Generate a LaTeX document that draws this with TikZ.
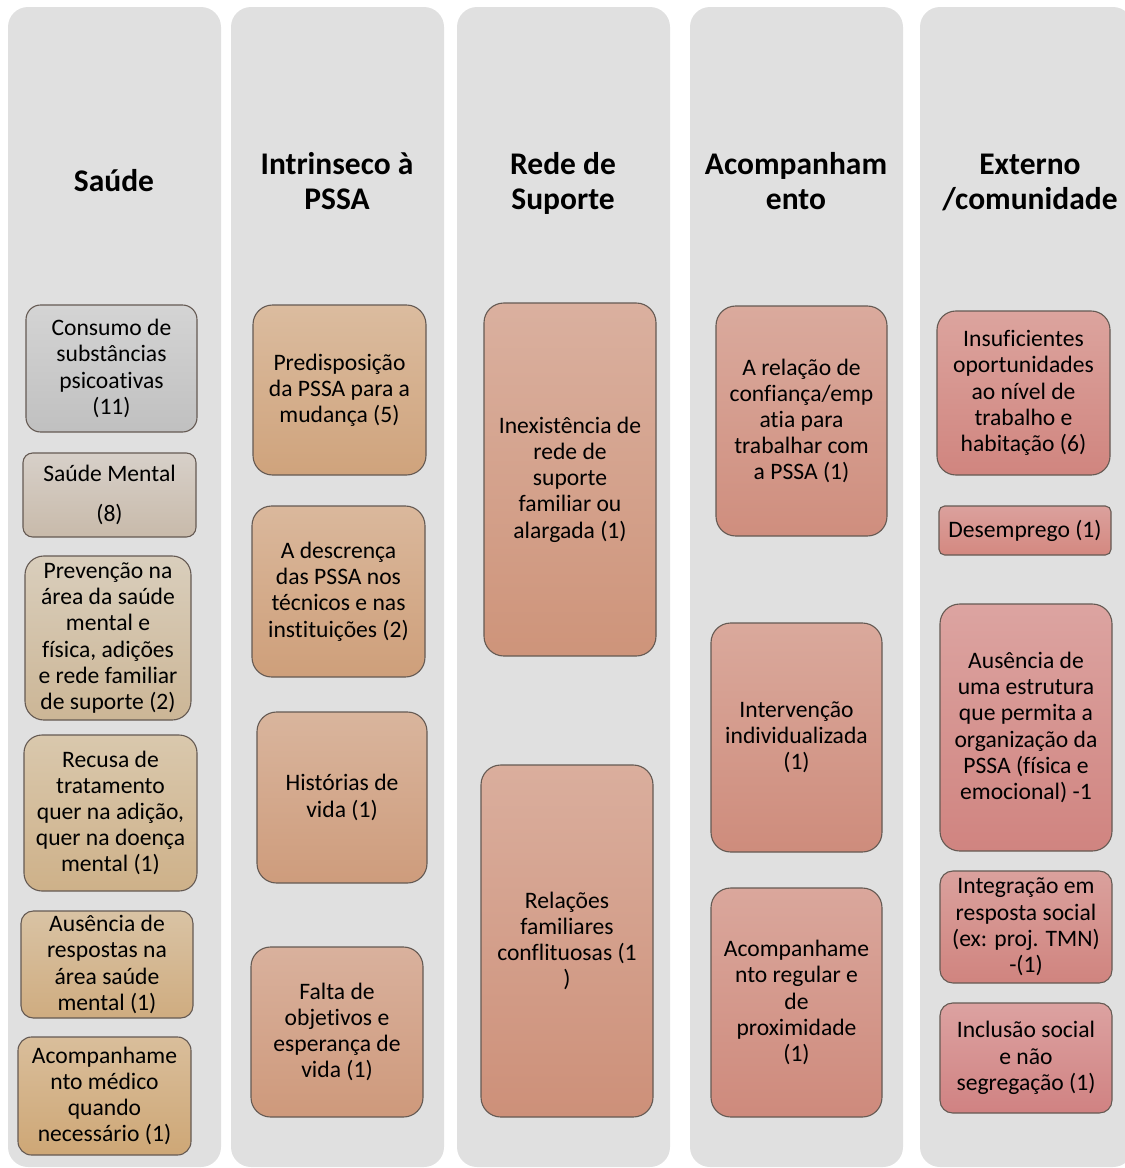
\documentclass[tikz,border=0pt]{standalone}
\usepackage{fontspec}
\setmainfont{Carlito}[Ligatures=NoCommon]
\definecolor{lanegray}{HTML}{E0E0E0}
\definecolor{edgebrown}{HTML}{655A53}
\newcommand\bodyfont{\fontsize{23.6}{26.2}\selectfont}
\newcommand\headfont{\fontsize{31.5}{35}\selectfont\bfseries}
% \catbox{name}{x1}{y1}{x2}{y2}{top colour}{bottom colour}{text}
\newcommand\catbox[8]{%
  \pgfmathsetmacro\bw{#4-#2}\pgfmathsetmacro\bh{#5-#3}%
  \pgfmathsetmacro\br{0.115*min(\bw,\bh)}%
  \pgfmathsetmacro\bx{(#2+#4)/2}\pgfmathsetmacro\by{(#3+#5)/2}%
  \definecolor{cattop}{HTML}{#6}\definecolor{catbot}{HTML}{#7}%
  \node[cat, minimum width=\bw pt, minimum height=\bh pt, rounded corners=\br pt,
        top color=cattop, bottom color=catbot] (#1) at (\bx,\by) {#8};}
\begin{document}
\begin{tikzpicture}[x=1pt,y=-1pt,
  lane/.style={fill=lanegray, draw=none, rounded corners=20pt, inner sep=0pt,
               minimum width=213pt, minimum height=1160pt},
  cat/.style={draw=edgebrown, line width=1.1pt, inner sep=0pt, align=center, font=\bodyfont},
  head/.style={align=center, font=\headfont}]
\useasboundingbox (0,0) rectangle (1125,1168);

% category lanes
\node[lane] (laneA) at (114.5,587) {};
\node[lane] (laneB) at (337.5,587) {};
\node[lane] (laneC) at (563.5,587) {};
\node[lane] (laneD) at (796.5,587) {};
\node[lane] (laneE) at (1026.5,587) {};

% lane headings
\node[head] (hA) at (114,181) {Saúde};
\node[head] (hB) at (337,181) {Intrinseco à\\PSSA};
\node[head] (hC) at (563,183) {Rede de\\Suporte};
\node[head] (hD) at (796,181) {Acompanham\\ento};
\node[head] (hE) at (1030,182) {Externo\\/comunidade};

% Saúde
\catbox{a1}{26}{305}{197}{432}{D4D4D4}{C0C0C0}{Consumo de\\substâncias\\psicoativas\\(11)}
\catbox{a2}{23}{453}{196}{537}{D7D0C9}{C8BAAA}{Saúde Mental\\[13pt](8)}
\catbox{a3}{25}{556}{191}{720}{D9CEBC}{CCB696}{Prevenção na\\área da saúde\\mental e\\física, adições\\e rede familiar\\de suporte (2)}
\catbox{a4}{24}{735}{197}{891}{D9C8AD}{CEB189}{Recusa de\\tratamento\\quer na adição,\\quer na doença\\mental (1)}
\catbox{a5}{21}{911}{193}{1018}{D9C3A4}{CFAC80}{Ausência de\\respostas na\\área saúde\\mental (1)}
\catbox{a6}{18}{1037}{191}{1155}{D9BE9B}{CEA776}{Acompanhame\\nto médico\\quando\\necessário (1)}

% Intrinseco à PSSA
\catbox{b1}{253}{305}{426}{475}{DBBC9F}{CFA37C}{Predisposição\\da PSSA para a\\mudança (5)}
\catbox{b2}{252}{506}{425}{677}{DAB89C}{CE9F7A}{A descrença\\das PSSA nos\\técnicos e nas\\instituições (2)}
\catbox{b3}{257}{712}{427}{883}{D9B59D}{CE9C7C}{Histórias de\\vida (1)}
\catbox{b4}{251}{947}{423}{1117}{D9B19D}{CE997B}{Falta de\\objetivos e\\esperança de\\vida (1)}

% Rede de Suporte
\catbox{c1}{484}{303}{656}{656}{DAB09F}{CE947A}{Inexistência de\\rede de\\suporte\\familiar ou\\alargada (1)}
\catbox{c2}{481}{765}{653}{1117}{DAAE9D}{CD9079}{Relações\\familiares\\conflituosas (1\\)}

% Acompanhamento
\catbox{d1}{716}{306}{887}{536}{DAAA9D}{CF8E7E}{A relação de\\confiança/emp\\atia para\\trabalhar com\\a PSSA (1)}
\catbox{d2}{711}{623}{882}{852}{DAA99C}{CE8C7C}{Intervenção\\individualizada\\(1)}
\catbox{d3}{711}{888}{882}{1117}{DAA79C}{CE8A7C}{Acompanhame\\nto regular e\\de\\proximidade\\(1)}

% Externo / comunidade
\catbox{e1}{937}{311}{1110}{475}{DCA49E}{D0857F}{Insuficientes\\oportunidades\\ao nível de\\trabalho e\\habitação (6)}
\catbox{e2}{939}{506}{1111}{555}{DBA19D}{D48880}{Desemprego (1)}
\catbox{e3}{940}{604}{1112}{851}{DCA4A1}{D08480}{Ausência de\\uma estrutura\\que permita a\\organização da\\PSSA (física e\\emocional) -1}
\catbox{e4}{940}{871}{1112}{983}{DAA19D}{D0847F}{Integração em\\resposta social\\(ex: proj. TMN)\\-(1)}
\catbox{e5}{940}{1003}{1112}{1113}{DCA2A1}{D08282}{Inclusão social\\e não\\segregação (1)}
\end{tikzpicture}
\end{document}
